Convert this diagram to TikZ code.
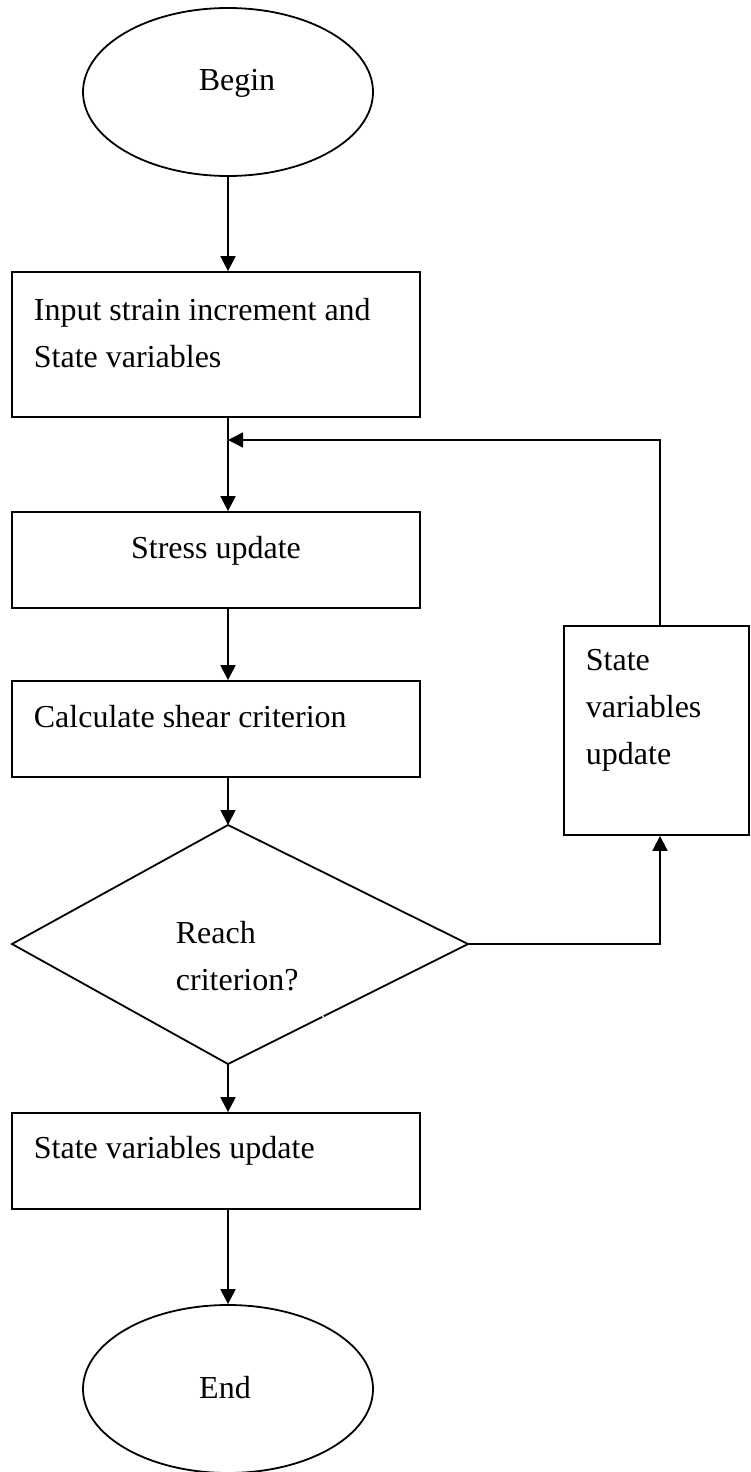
\documentclass[tikz,border=0pt]{standalone}
\usepackage{fontspec}
\setmainfont{Liberation Serif}
\usetikzlibrary{arrows.meta,shapes.geometric}
\begin{document}
\begin{tikzpicture}[x=1pt,y=-1pt,
  line width=1.8pt,
  box/.style={draw, rectangle, inner sep=0pt},
  oval/.style={draw, ellipse, inner sep=0pt, minimum width=290pt, minimum height=168pt},
  txt/.style={font=\fontsize{32}{47}\selectfont, inner sep=0pt, align=left},
  flow/.style={-{Triangle[length=15pt,width=15pt]}}]
\useasboundingbox (0,0) rectangle (750,1472);

% terminals
\node[oval] (begin) at (228,92) {};
\node[txt, anchor=base] (begintxt) at (237,90) {Begin};
\node[oval] (end) at (228,1389) {};
\node[txt, anchor=base] (endtxt) at (225,1398) {End};

% process boxes
\node[box, minimum width=408pt, minimum height=145pt] (input) at (216,344.5) {};
\node[txt, anchor=base west] (inputtxt) at (33,367) {Input strain increment and\\State variables};

\node[box, minimum width=408pt, minimum height=96pt] (stress) at (216,560) {};
\node[txt, anchor=base] (stresstxt) at (216,558) {Stress update};

\node[box, minimum width=408pt, minimum height=96pt] (calc) at (216,729) {};
\node[txt, anchor=base west] (calctxt) at (33,727) {Calculate shear criterion};

\node[box, minimum width=408pt, minimum height=96pt] (final) at (216,1161) {};
\node[txt, anchor=base west] (finaltxt) at (33,1158) {State variables update};

\node[box, minimum width=185pt, minimum height=209pt] (upd) at (656.5,730.5) {};
\node[txt, anchor=base west] (updtxt) at (585,764) {State\\variables\\update};

% decision
\coordinate (dt) at (228,825);
\coordinate (dr) at (468,944);
\coordinate (db) at (228,1064);
\coordinate (dl) at (12,944);
\draw (dt) -- (dr) -- (db) -- (dl) -- cycle;
\node[txt, anchor=base west] (dtxt) at (175,990) {Reach\\criterion?};
\draw[white, line width=1.2pt] (322,1014.5) -- (324,1018.5);

% loop corner points
\coordinate (loop) at (660,440);
\coordinate (col) at (228,0);

% connectors
\draw[flow] (begin.south) -- (col |- input.north);
\draw[flow] (col |- input.south) -- (col |- stress.north);
\draw[flow] (col |- stress.south) -- (col |- calc.north);
\draw[flow] (col |- calc.south) -- (dt);
\draw[flow] (db) -- (col |- final.north);
\draw[flow] (col |- final.south) -- (end.north);
\draw[flow] (dr) -- (dr -| loop) -- (loop |- upd.south);
\draw[flow] (loop |- upd.north) -- (loop) -- (col |- loop);
\end{tikzpicture}
\end{document}
